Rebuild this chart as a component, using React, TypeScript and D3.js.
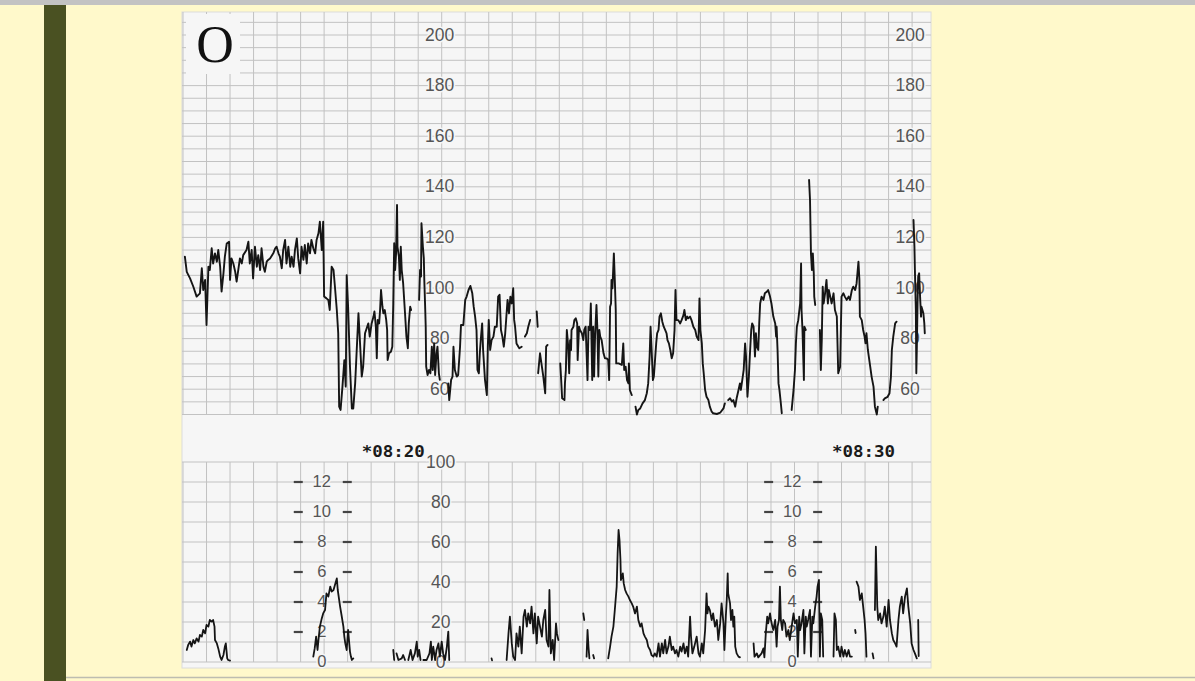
import React from 'react';
import * as d3 from 'd3';

type Pt = [number, number | null];

// Time in minutes after 08:00, fetal heart rate in bpm (null = pen lift)
const fhrTrace: Pt[] = [
  [14.54,112.4],[14.58,106.4],[14.65,103.8],[14.72,100.5],[14.79,96.6],[14.86,97.9],[14.90,107.8],[14.93,99.2],[14.97,103.2],[15.00,85.4],[15.04,108.4],[15.07,107.1],[15.11,115.7],[15.14,109.7],[15.18,113.7],[15.22,110.4],[15.25,115.0],[15.29,108.4],[15.32,98.6],[15.36,105.8],[15.39,112.4],[15.43,117.6],[15.48,118.3],[15.50,103.2],[15.53,111.7],[15.57,109.7],[15.61,106.4],[15.64,102.5],[15.68,107.8],[15.71,111.7],[15.75,109.7],[15.78,113.0],[15.85,115.0],[15.89,118.3],[15.92,109.7],[15.96,115.0],[15.99,103.8],[16.03,116.3],[16.07,108.4],[16.10,113.0],[16.14,107.1],[16.17,115.7],[16.21,108.4],[16.24,106.4],[16.28,110.4],[16.31,111.1],[16.35,111.7],[16.42,113.7],[16.46,115.7],[16.49,116.3],[16.53,113.7],[16.56,112.4],[16.60,107.8],[16.63,115.0],[16.67,119.0],[16.70,109.7],[16.74,116.3],[16.78,108.4],[16.81,112.4],[16.85,108.4],[16.88,115.0],[16.92,119.6],[16.95,111.7],[16.99,105.8],[17.02,116.3],[17.06,111.1],[17.09,117.0],[17.13,109.7],[17.16,117.6],[17.20,113.7],[17.23,119.0],[17.27,115.7],[17.31,113.7],[17.34,119.0],[17.38,121.6],[17.41,126.2],[17.45,115.0],[17.48,126.2],[17.50,96.6],[17.55,95.9],[17.59,95.3],[17.62,91.3],[17.66,108.4],[17.70,107.1],[17.73,100.5],[17.77,91.3],[17.80,82.1],[17.82,53.1],[17.85,51.8],[17.89,61.0],[17.93,71.5],[17.96,61.0],[17.98,105.1],[18.01,92.6],[18.05,68.9],[18.09,52.4],[18.12,52.4],[18.16,62.3],[18.23,90.0],[18.26,79.5],[18.30,65.0],[18.33,68.9],[18.37,82.1],
  [18.44,86.0],[18.47,80.8],[18.51,86.0],[18.55,88.7],[18.57,90.7],[18.60,84.7],[18.62,72.2],[18.64,87.4],[18.67,86.0],[18.69,91.3],[18.71,99.2],[18.74,92.6],[18.76,90.0],[18.79,91.3],[18.82,87.4],[18.84,83.4],[18.85,71.5],[18.88,74.2],[18.92,74.8],[18.95,76.8],[18.97,93.9],[18.99,117.7],[19.01,107.1],[19.03,113.7],[19.05,132.8],[19.06,116.3],[19.09,112.4],[19.11,103.2],[19.13,116.3],[19.15,107.1],[19.18,101.9],[19.22,90.0],[19.25,80.8],[19.28,76.2],[19.30,86.0],[19.33,92.6],[19.35,91.3],
  [19.40,null],
  [19.52,95.3],[19.54,107.1],[19.56,104.5],[19.57,125.6],[19.60,116.3],[19.62,111.7],[19.63,103.2],[19.65,91.3],[19.66,84.7],[19.67,68.9],[19.70,65.6],[19.73,67.6],[19.76,66.3],[19.79,76.8],[19.81,67.6],[19.84,78.1],[19.86,65.6],[19.89,74.2],[19.91,76.8],[19.94,66.3],[19.96,63.7],
  [20.05,null],
  [20.14,62.3],[20.16,55.7],[20.20,63.7],[20.23,65.0],[20.25,76.8],[20.28,67.6],[20.32,65.0],[20.35,65.6],[20.39,76.8],[20.41,85.4],[20.46,85.4],[20.50,95.3],[20.53,96.6],[20.57,99.2],[20.61,100.8],[20.65,97.9],[20.68,92.6],[20.71,88.7],[20.74,83.4],[20.76,67.6],[20.79,66.3],[20.81,74.2],[20.83,79.4],[20.86,86.0],[20.88,75.5],[20.92,63.7],[20.96,57.7],[20.98,76.8],[21.00,87.4],[21.03,75.5],[21.06,79.4],[21.10,80.8],[21.13,84.7],[21.17,84.7],[21.20,96.6],[21.23,97.3],[21.26,83.4],[21.29,80.8],[21.32,76.8],[21.35,82.1],[21.37,87.4],[21.40,95.3],[21.43,90.0],[21.46,96.6],[21.49,93.9],[21.52,99.9],[21.54,87.4],[21.56,84.7],[21.59,78.1],[21.63,76.8],[21.65,76.2],[21.70,76.8],
  [21.73,null],
  [21.77,80.8],[21.81,82.1],[21.84,84.7],[21.88,87.4],
  [21.95,null],
  [22.02,90.7],[22.04,84.7],
  [22.045,null],
  [22.05,66.3],[22.09,74.2],[22.13,68.9],[22.16,65.0],[22.20,58.4],[22.22,76.8],[22.25,77.5],
  [22.40,null],
  [22.52,70.2],[22.54,63.6],[22.56,56.4],[22.61,55.7],[22.62,62.3],[22.64,67.6],[22.66,83.4],[22.69,76.8],[22.71,66.3],[22.73,79.4],[22.75,75.5],[22.76,83.4],[22.80,84.7],[22.82,87.3],[22.85,88.0],[22.88,86.0],[22.89,71.5],[22.92,84.7],[22.94,83.4],[22.98,82.1],[23.01,79.4],[23.03,83.4],[23.06,84.7],[23.08,74.2],[23.10,63.6],[23.12,84.7],[23.15,83.4],[23.17,93.9],[23.20,63.6],[23.22,84.7],[23.24,65.0],[23.26,80.8],[23.29,93.3],[23.31,83.4],[23.33,65.0],[23.35,83.4],[23.37,80.8],[23.40,79.4],[23.44,74.2],[23.47,72.2],[23.51,72.2],[23.54,71.5],[23.56,63.6],[23.58,92.6],[23.60,93.9],[23.61,103.2],[23.63,99.9],[23.66,113.7],[23.68,103.2],[23.70,91.3],[23.71,70.2],[23.76,70.2],[23.83,69.6],[23.86,78.1],[23.88,67.6],[23.91,68.9],[23.94,63.6],[23.97,62.3],[23.98,70.2],[24.00,59.7],[24.04,57.7],
  [24.08,null],
  [24.12,53.1],[24.15,50.0],[24.18,51.8],[24.22,52.4],[24.27,54.4],[24.32,55.7],[24.36,58.4],[24.39,62.3],[24.42,72.9],[24.44,84.7],[24.46,76.8],[24.49,63.6],[24.51,65.0],[24.53,70.2],[24.56,78.1],[24.58,82.1],[24.61,83.4],[24.63,88.7],[24.66,90.0],[24.69,86.7],[24.72,84.7],[24.75,83.4],[24.78,82.1],[24.80,79.4],[24.83,78.1],[24.86,75.5],[24.89,72.2],[24.92,74.2],[24.95,83.4],[24.97,99.2],[24.99,87.3],[25.03,87.3],[25.07,86.0],[25.10,87.3],[25.14,89.3],[25.16,91.3],[25.19,87.3],[25.22,88.7],[25.24,88.0],[25.28,88.7],[25.31,87.3],[25.35,84.7],[25.39,83.4],[25.42,80.8],[25.46,79.4],[25.48,95.9],[25.50,83.4],[25.53,78.1],[25.55,70.2],[25.57,66.3],[25.60,59.7],[25.63,57.0],[25.67,55.7],[25.70,53.1],[25.74,51.1],[25.77,50.5],[25.85,50.2],[25.92,50.7],[25.99,52.4],[26.02,54.4],
  [26.05,null],
  [26.09,55.7],[26.13,56.4],[26.17,55.1],[26.20,55.7],[26.24,53.1],[26.27,56.4],[26.31,59.7],[26.34,62.3],[26.36,59.7],[26.39,63.6],[26.42,67.6],
  [26.45,78.1],[26.47,72.9],[26.50,57.0],[26.53,64.9],[26.55,72.9],[26.58,83.4],[26.60,86.0],[26.63,84.7],[26.66,72.9],[26.68,82.1],[26.70,76.8],[26.73,75.5],[26.75,86.0],[26.77,93.9],[26.80,96.6],[26.84,95.3],[26.87,97.9],[26.91,98.5],[26.94,99.2],[26.98,96.6],[27.01,93.9],[27.05,88.7],[27.09,86.0],[27.11,80.8],[27.12,84.7],[27.14,75.5],[27.16,62.3],[27.18,59.7],[27.21,54.4],[27.23,50.5],
  [27.30,null],
  [27.44,51.8],[27.48,59.7],[27.51,67.6],[27.53,78.1],[27.55,84.7],[27.58,87.3],[27.62,93.9],[27.64,109.7],[27.65,91.3],[27.67,83.4],[27.70,63.6],[27.71,84.7],[27.74,83.4],
  [27.78,null],
  [27.81,142.7],[27.83,134.8],[27.85,113.7],[27.87,107.1],[27.89,113.7],[27.91,105.8],[27.92,96.6],[27.94,93.3],
  [27.99,null],
  [28.04,83.4],[28.06,67.6],[28.08,79.4],[28.10,100.5],[28.12,93.9],[28.15,97.9],[28.18,103.2],[28.21,93.9],[28.23,99.2],[28.26,96.6],[28.29,93.9],[28.33,97.9],[28.36,91.3],[28.40,88.7],[28.43,66.3],[28.47,68.9],[28.50,96.6],[28.54,97.9],[28.57,96.6],[28.61,95.3],[28.65,96.6],[28.68,95.3],[28.72,99.2],[28.75,100.5],[28.79,99.2],[28.82,101.8],[28.86,110.4],[28.88,103.2],[28.89,88.7],[28.93,87.3],[28.96,83.4],[28.99,80.8],[29.01,78.1],[29.03,82.1],[29.06,75.5],[29.08,72.9],[29.11,68.9],[29.14,64.9],[29.18,61.0],[29.21,53.1],[29.25,50.0],[29.27,53.1],
  [29.33,null],
  [29.39,55.7],[29.42,56.4],[29.48,57.0],[29.52,58.4],[29.55,64.9],[29.57,75.5],[29.60,80.8],[29.64,86.0],[29.67,86.7],
  [29.80,null],
  [30.03,126.9],[30.05,116.3],[30.06,107.1],[30.08,91.3],[30.09,66.3],[30.10,75.5],[30.12,97.9],[30.13,104.5],[30.15,105.8],[30.17,96.6],[30.19,88.7],[30.20,92.6],[30.24,90.0],[30.26,86.0],[30.27,82.1],
];

// Time in minutes after 08:00, uterine activity in mmHg (null = pen lift)
const uaTrace: Pt[] = [
  [14.58,6.0],[14.61,8.5],[14.65,10.2],[14.68,7.7],[14.72,11.0],[14.75,9.3],[14.79,11.8],[14.83,10.2],[14.86,13.5],[14.90,12.7],[14.93,16.0],[14.97,14.3],[15.00,18.5],[15.04,17.7],[15.07,21.0],[15.11,20.2],[15.14,21.0],[15.17,17.7],[15.18,11.0],[15.22,9.3],[15.25,6.8],[15.29,2.7],[15.32,1.0],[15.36,3.5],[15.39,7.7],[15.41,9.3],[15.44,1.8],[15.46,1.0],[15.50,0.7],
  [16.00,null],
  [17.27,2.7],[17.30,6.8],[17.33,12.7],[17.36,6.0],[17.38,11.0],[17.41,17.7],[17.45,21.8],[17.48,24.3],[17.52,26.0],[17.55,34.3],[17.59,32.7],[17.63,37.7],[17.66,35.2],[17.70,36.0],[17.73,38.5],[17.77,41.8],[17.79,36.0],[17.81,32.7],[17.84,27.7],[17.87,23.5],[17.91,17.7],[17.93,12.7],[17.95,9.3],[17.98,6.0],[18.01,16.0],[18.05,5.2],[18.07,2.7],[18.09,1.0],[18.12,1.8],
  [18.50,null],
  [18.97,6.0],[18.99,1.0],
  [19.02,null],
  [19.04,4.3],[19.08,1.0],[19.15,1.8],[19.18,3.5],[19.22,1.0],
  [19.25,null],
  [19.29,1.0],[19.34,6.0],[19.38,1.0],[19.43,4.3],[19.47,10.2],[19.49,2.7],[19.52,6.0],[19.55,1.0],
  [19.58,null],
  [19.61,1.0],[19.68,1.0],[19.74,4.3],[19.77,10.2],[19.79,1.0],[19.82,7.7],[19.86,1.0],[19.89,6.0],[19.93,9.3],[19.96,2.7],[20.00,10.2],[20.03,4.3],[20.07,1.0],[20.11,7.7],[20.14,15.2],[20.16,1.0],
  [20.50,null],
  [21.06,1.8],[21.07,0.8],
  [21.20,null],
  [21.38,1.0],[21.42,14.3],[21.45,22.7],[21.49,9.3],[21.52,2.7],[21.56,1.0],[21.59,14.3],[21.63,7.7],[21.66,17.7],[21.70,4.3],[21.74,22.7],[21.77,26.0],[21.81,17.7],[21.84,24.3],[21.88,19.3],[21.91,27.7],[21.95,14.3],[21.98,24.3],[22.02,9.3],[22.05,22.7],[22.09,17.7],[22.13,12.7],[22.16,21.0],[22.20,26.0],[22.23,11.0],[22.27,7.7],[22.29,36.0],[22.32,4.3],[22.36,11.0],[22.39,1.0],[22.43,19.3],[22.45,14.3],[22.48,11.0],
  [22.70,null],
  [23.01,24.3],[23.03,21.0],
  [23.05,null],
  [23.08,2.7],[23.10,16.0],[23.12,7.7],[23.14,1.8],
  [23.18,null],
  [23.22,3.5],[23.24,1.8],
  [23.40,null],
  [23.54,1.8],[23.58,7.7],[23.61,12.7],[23.65,17.7],[23.68,26.0],[23.72,37.7],[23.74,54.3],[23.76,66.0],[23.78,61.0],[23.80,51.0],[23.81,41.0],[23.83,42.7],[23.85,44.3],[23.87,39.3],[23.90,36.0],[23.93,34.3],[23.97,32.7],[24.00,31.0],[24.04,29.3],[24.07,27.7],[24.11,24.3],[24.15,27.7],[24.18,21.0],[24.22,17.7],[24.25,19.3],[24.29,14.3],[24.32,12.7],[24.36,11.0],[24.39,7.7],[24.43,6.0],[24.46,3.5],[24.50,2.7],[24.53,4.3],[24.57,2.7],[24.61,9.3],[24.64,2.7],[24.68,9.3],[24.71,4.3],[24.75,11.0],[24.78,4.3],[24.82,7.7],[24.85,12.7],[24.89,6.0],[24.92,7.7],[24.96,4.3],[24.99,6.0],[25.03,2.7],[25.07,7.7],[25.10,5.2],[25.14,9.3],[25.17,4.3],[25.21,7.7],[25.24,2.7],[25.28,22.7],[25.30,12.7],[25.33,4.3],[25.37,7.7],[25.42,12.7],[25.46,4.3],[25.49,2.7],[25.53,9.3],[25.56,4.3],[25.60,16.0],[25.63,34.3],[25.65,24.3],[25.67,27.7],[25.70,26.0],[25.74,21.0],[25.77,24.3],[25.81,17.7],[25.85,21.0],[25.88,11.0],[25.92,19.3],[25.95,29.3],[25.99,19.3],[26.01,6.0],[26.04,22.7],[26.06,31.0],[26.08,44.3],[26.09,34.3],[26.13,29.3],[26.15,21.0],[26.18,26.0],[26.20,17.7],[26.22,22.7],[26.24,7.7],[26.27,4.3],[26.31,2.7],[26.34,2.3],
  [26.50,null],
  [26.63,9.3],[26.65,2.7],[26.70,4.3],[26.73,2.3],[26.80,4.3],[26.84,6.8],[26.86,2.3],[26.89,14.3],[26.92,22.7],[26.94,19.3],[26.98,24.3],[27.00,21.0],[27.03,17.7],[27.05,16.0],[27.09,21.0],[27.12,7.7],[27.14,17.7],[27.17,21.0],[27.19,37.7],[27.21,21.0],[27.24,16.0],[27.26,21.0],[27.30,19.3],[27.33,12.7],[27.37,16.0],[27.40,11.0],[27.44,17.7],[27.48,24.3],[27.51,19.3],[27.55,21.0],[27.57,2.7],[27.60,22.7],[27.62,16.0],[27.65,19.3],[27.69,26.0],[27.71,4.3],[27.74,22.7],[27.76,17.7],[27.79,21.0],[27.83,26.0],[27.85,2.7],[27.88,22.7],[27.90,19.3],[27.94,27.7],[27.97,32.7],[27.99,37.7],[28.02,41.0],[28.04,2.7],[28.06,24.3],[28.09,21.0],[28.11,2.7],
  [28.20,null],
  [28.33,2.7],[28.35,24.3],[28.38,21.0],[28.40,6.0],[28.43,7.7],[28.47,2.7],[28.50,7.7],[28.54,2.7],[28.57,6.0],[28.61,2.7],[28.65,6.0],[28.68,2.7],[28.72,2.7],
  [28.75,null],
  [28.79,16.0],[28.80,14.5],
  [28.81,null],
  [28.82,40.2],[28.86,37.7],[28.89,31.0],[28.93,34.3],[28.96,27.7],[28.99,21.0],[29.01,14.3],[29.03,2.7],
  [29.10,null],
  [29.16,4.3],[29.18,1.8],
  [29.20,null],
  [29.21,26.0],[29.23,57.7],[29.26,27.7],[29.28,21.0],[29.32,24.3],[29.35,19.3],[29.39,22.7],[29.42,27.7],[29.46,17.7],[29.50,31.0],[29.53,21.0],[29.57,14.3],[29.60,11.0],[29.64,9.3],[29.67,7.7],[29.71,21.0],[29.74,27.7],[29.78,32.7],[29.81,24.3],[29.85,32.7],[29.89,36.8],[29.92,27.7],[29.96,19.3],[29.99,9.3],[30.03,6.0],[30.06,4.3],[30.10,1.8],
  [30.12,null],
  [30.13,21.0],[30.14,3.0],
];

const fhrTicks = [60, 80, 100, 120, 140, 160, 180, 200];
const uaTicks = [0, 20, 40, 60, 80, 100];
const kpaTicks = [0, 2, 4, 6, 8, 10, 12];
const fhrLabelTimes = [20, 30];
const uaLabelTimes = [20];
const kpaLabelTimes = [17.45, 27.45];
const timeMarks = [20, 30];
const timeMarkLabels = ['*08:20', '*08:30'];
const panelLetter = 'O';

const PAPER = '#f6f6f6';
const GRID = '#c2c2c2';
const LABEL = '#555555';
const INK = '#151515';

export default function App() {
  const W = 1195;
  const H = 681;
  const x = d3.scaleLinear().domain([14.5, 30.4]).range([183, 930.9]);
  const yF = d3.scaleLinear().domain([50, 210]).range([414.5, 9.7]).clamp(true);
  const yU = d3.scaleLinear().domain([0, 100]).range([662, 462]).clamp(true);
  const yK = d3.scaleLinear().domain([0, 12]).range([662, 482]);

  const paperL = 182, paperR = 931, paperT = 12, paperB = 668;

  const vLines = d3.range(14.5, 30.01, 0.5);
  const fhrLines = d3.range(50, 206, 5);
  const uaLines = d3.range(0, 101, 10);

  const fhrLine = d3.line<Pt>()
    .defined(d => d[1] !== null)
    .x(d => x(d[0]))
    .y(d => yF(d[1] as number));
  const uaLine = d3.line<Pt>()
    .defined(d => d[1] !== null)
    .x(d => x(d[0]))
    .y(d => yU(d[1] as number));

  const labelStyle = {
    fontFamily: 'Liberation Sans, Arial, sans-serif',
    fill: LABEL,
    stroke: PAPER,
    strokeWidth: 3,
    paintOrder: 'stroke',
  } as React.CSSProperties;

  return (
    <div style={{ position: 'fixed', left: 0, top: 0, width: W, height: H }}>
      <svg width={W} height={H} style={{ display: 'block' }}>
        <rect x={0} y={0} width={W} height={H} fill="#fff9cb" />
        <rect x={0} y={0} width={W} height={5} fill="#c3c3c3" />
        <rect x={44} y={5} width={22} height={H - 5} fill="#4a5122" />
        <line x1={66} x2={W} y1={677.5} y2={677.5} stroke="#bdbdb0" strokeWidth={1.5} />

        {/* paper */}
        <rect x={paperL} y={paperT} width={paperR - paperL} height={paperB - paperT} fill={PAPER} stroke="#dcdcdc" strokeWidth={1} />

        {/* grid */}
        <g stroke={GRID} strokeWidth={1}>
          {fhrLines.map(v => (
            <line key={'fh' + v} x1={paperL} x2={paperR} y1={yF(v)} y2={yF(v)} />
          ))}
          {vLines.map(t => (
            <line key={'fv' + t} x1={x(t)} x2={x(t)} y1={paperT} y2={yF(50)} />
          ))}
          {uaLines.map(v => (
            <line key={'uh' + v} x1={paperL} x2={paperR} y1={yU(v)} y2={yU(v)} />
          ))}
          {vLines.map(t => (
            <line key={'uv' + t} x1={x(t)} x2={x(t)} y1={yU(100)} y2={yU(0)} />
          ))}
        </g>

        {/* FHR labels */}
        {fhrLabelTimes.map(t =>
          fhrTicks.map(v => (
            <text key={'fl' + t + v} x={x(t) - 2} y={yF(v) + 1} textAnchor="middle" dominantBaseline="middle" fontSize={17.5} style={labelStyle}>
              {v}
            </text>
          ))
        )}

        {/* UA labels */}
        {uaLabelTimes.map(t =>
          uaTicks.map(v => (
            <text key={'ul' + t + v} x={x(t) - 1} y={yU(v) + 1} textAnchor="middle" dominantBaseline="middle" fontSize={17.5} style={labelStyle}>
              {v}
            </text>
          ))
        )}

        {/* kPa scales */}
        {kpaLabelTimes.map(t => (
          <g key={'kp' + t}>
            {kpaTicks.map(k => (
              <g key={'k' + k}>
                {k > 0 && (
                  <>
                    <line x1={x(t) - 28} x2={x(t) - 19} y1={yK(k)} y2={yK(k)} stroke="#444" strokeWidth={2.2} />
                    <line x1={x(t) + 21} x2={x(t) + 30} y1={yK(k)} y2={yK(k)} stroke="#444" strokeWidth={2.2} />
                  </>
                )}
                <text x={x(t)} y={yK(k) + 1} textAnchor="middle" dominantBaseline="middle" fontSize={16.5} style={labelStyle}>
                  {k}
                </text>
              </g>
            ))}
          </g>
        ))}

        {/* time marks */}
        {timeMarks.map((t, i) => (
          <text
            key={'tm' + t}
            x={x(t) - 80}
            y={457}
            fontSize={15}
            fontWeight="bold"
            textLength={63}
            lengthAdjust="spacingAndGlyphs"
            style={{ fontFamily: 'DejaVu Sans Mono, monospace', fill: '#1a1a1a' }}
          >
            {timeMarkLabels[i]}
          </text>
        ))}

        {/* traces */}
        <path d={fhrLine(fhrTrace) || ''} fill="none" stroke={INK} strokeWidth={1.9} strokeLinejoin="round" strokeLinecap="round" />
        <path d={uaLine(uaTrace) || ''} fill="none" stroke={INK} strokeWidth={1.8} strokeLinejoin="round" strokeLinecap="round" />

        {/* panel letter */}
        <rect x={186} y={14} width={54} height={60} fill={PAPER} />
        <text x={215} y={62} textAnchor="middle" fontSize={52} style={{ fontFamily: 'Liberation Serif, Times New Roman, serif', fill: '#111' }}>
          {panelLetter}
        </text>
      </svg>
    </div>
  );
}
